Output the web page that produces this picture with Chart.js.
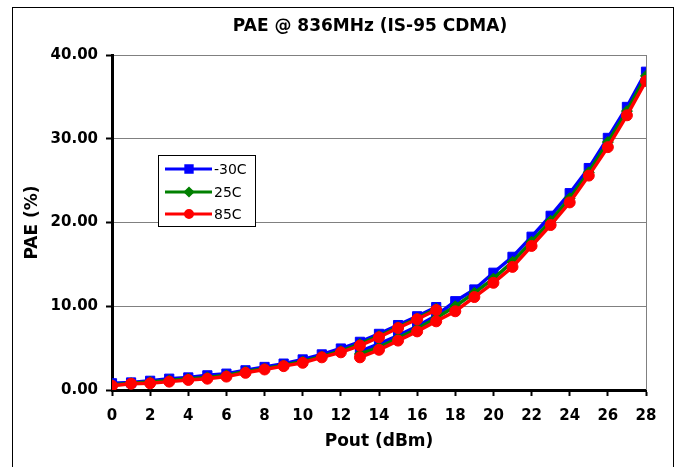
<!DOCTYPE html>
<html>
<head>
<meta charset="utf-8">
<script src="https://cdn.jsdelivr.net/npm/chart.js@4/dist/chart.umd.min.js"></script>
<style>
  html, body { margin: 0; padding: 0; background: #fff; }
  #wrap { width: 684px; height: 467px; position: relative; }
</style>
</head>
<body>
<div id="wrap"><canvas id="c" width="684" height="467"></canvas></div>
<script>
// ---- data ----
const chartTitle = "PAE @ 836MHz (IS-95 CDMA)";
const xTitle = "Pout (dBm)";
const yTitle = "PAE (%)";
const seriesNames = ["-30C", "25C", "85C"];

// low-power mode branch
const poutLow = [0,1,2,3,4,5,6,7,8,9,10,11,12,13,14,15,16,17];
const paeM30Low = [0.8,0.9,1.1,1.35,1.5,1.75,1.95,2.35,2.75,3.15,3.65,4.25,4.95,5.75,6.7,7.75,8.8,9.9];
const pae25Low  = [0.6,0.8,0.95,1.15,1.35,1.5,1.75,2.2,2.55,2.95,3.4,4.0,4.65,5.5,6.45,7.5,8.55,9.7];
const pae85Low  = [0.5,0.75,0.8,1.0,1.2,1.35,1.6,2.05,2.45,2.85,3.25,3.9,4.5,5.3,6.3,7.4,8.45,9.55];

// high-power mode branch
const poutHigh = [13,14,15,16,17,18,19,20,21,22,23,24,25,26,27,28];
const paeM30High = [4.6,5.5,6.5,7.6,8.9,10.6,12.0,14.0,15.9,18.3,20.8,23.5,26.5,30.1,33.8,38.0];
const pae25High  = [4.3,5.1,6.2,7.3,8.6,10.0,11.6,13.3,15.3,17.7,20.2,22.9,26.0,29.6,33.3,37.5];
const pae85High  = [3.9,4.8,5.9,7.0,8.2,9.4,11.1,12.8,14.7,17.2,19.7,22.4,25.6,29.0,32.8,36.9];

const yTicks = [0, 10, 20, 30, 40];

// ---- build ----
function branchPoints(xs1, ys1, xs2, ys2) {
  const pts = xs1.map((x, i) => ({x: x, y: ys1[i]}));
  pts.push({x: (xs1[xs1.length - 1] + xs2[0]) / 2, y: null}); // break between modes
  xs2.forEach((x, i) => pts.push({x: x, y: ys2[i]}));
  return pts;
}

const styles = [
  {color: '#0000ff', point: 'rect', r: 6.5, order: 3},
  {color: '#008000', point: 'rectRot', r: 5.5, order: 2},
  {color: '#ff0000', point: 'circle', r: 5.5, order: 1}
];
const series = [
  branchPoints(poutLow, paeM30Low, poutHigh, paeM30High),
  branchPoints(poutLow, pae25Low, poutHigh, pae25High),
  branchPoints(poutLow, pae85Low, poutHigh, pae85High)
];

const datasets = series.map((pts, i) => ({
  label: seriesNames[i],
  data: pts,
  borderColor: styles[i].color,
  backgroundColor: styles[i].color,
  borderWidth: 3.5,
  pointStyle: styles[i].point,
  pointRadius: styles[i].r,
  pointBorderWidth: 1,
  pointBorderColor: styles[i].color,
  pointBackgroundColor: styles[i].color,
  spanGaps: false,
  tension: 0,
  order: styles[i].order
}));

const FONT = "'DejaVu Sans', sans-serif";

const decor = {
  id: 'decor',
  beforeDraw(chart) {
    const ctx = chart.ctx;
    ctx.save();
    ctx.fillStyle = '#fff';
    ctx.fillRect(0, 0, chart.width, chart.height);
    ctx.strokeStyle = '#000';
    ctx.lineWidth = 1;
    ctx.strokeRect(12.5, 7.5, 661, 480);
    ctx.restore();
  },
  beforeDatasetsDraw(chart) {
    const ctx = chart.ctx, a = chart.chartArea;
    ctx.save();
    ctx.strokeStyle = '#808080';
    ctx.lineWidth = 1;
    ctx.beginPath();
    ctx.moveTo(Math.round(a.right) + 0.5, a.top);
    ctx.lineTo(Math.round(a.right) + 0.5, a.bottom);
    ctx.stroke();
    ctx.restore();
  },
  afterDraw(chart) {
    const ctx = chart.ctx;
    ctx.save();
    // title
    ctx.fillStyle = '#000';
    ctx.font = "bold 17px " + FONT;
    ctx.textAlign = 'center';
    ctx.textBaseline = 'middle';
    ctx.fillText(chartTitle, 370, 27);
    // legend box
    const bx = 158.5, by = 155.5, bw = 97, bh = 71;
    ctx.fillStyle = '#fff';
    ctx.fillRect(bx, by, bw, bh);
    ctx.strokeStyle = '#000';
    ctx.lineWidth = 1;
    ctx.strokeRect(bx, by, bw, bh);
    const rows = [169, 192, 214];
    chart.data.datasets.forEach((ds, i) => {
      const y = rows[i];
      ctx.strokeStyle = ds.borderColor;
      ctx.lineWidth = 3;
      ctx.beginPath();
      ctx.moveTo(165, y);
      ctx.lineTo(212, y);
      ctx.stroke();
      ctx.fillStyle = ds.borderColor;
      Chart.helpers.drawPoint(ctx, {pointStyle: ds.pointStyle, rotation: 0, radius: i === 0 ? 4.5 : 3.5, borderWidth: 1}, 189, y);
      ctx.fillStyle = '#000';
      ctx.font = "14px " + FONT;
      ctx.textAlign = 'left';
      ctx.textBaseline = 'middle';
      ctx.fillText(ds.label, 214, y + 1);
    });
    ctx.restore();
  }
};

new Chart(document.getElementById('c'), {
  type: 'line',
  data: { datasets: datasets },
  options: {
    responsive: false,
    animation: false,
    devicePixelRatio: 1,
    layout: { padding: { top: 55, right: 38, bottom: 0, left: 0 } },
    plugins: {
      legend: { display: false },
      title: { display: false },
      tooltip: { enabled: false }
    },
    scales: {
      x: {
        type: 'linear',
        min: 0, max: 28,
        afterFit(s) { s.height = 77; },
        ticks: {
          stepSize: 2,
          color: '#000',
          font: { family: FONT, size: 15, weight: 'bold' },
          padding: 11,
          maxRotation: 0
        },
        grid: {
          drawOnChartArea: false,
          drawTicks: true,
          tickLength: 6,
          tickColor: '#000',
          tickWidth: 2
        },
        border: { color: '#000', width: 3 },
        title: {
          display: true,
          text: xTitle,
          color: '#000',
          font: { family: FONT, size: 17, weight: 'bold' },
          padding: { top: 0, bottom: 15 }
        }
      },
      y: {
        min: 0, max: 40,
        afterFit(s) { s.width = 112; },
        afterBuildTicks(s) { s.ticks = yTicks.map(v => ({value: v})); },
        ticks: {
          color: '#000',
          font: { family: FONT, size: 15, weight: 'bold' },
          padding: 8,
          callback: v => Number(v).toFixed(2)
        },
        grid: {
          color: '#808080',
          lineWidth: 1,
          drawTicks: true,
          tickLength: 6,
          tickColor: '#000',
          tickWidth: 2
        },
        border: { color: '#000', width: 3 },
        title: {
          display: true,
          text: yTitle,
          color: '#000',
          font: { family: FONT, size: 17, weight: 'bold' },
          padding: { top: 22, bottom: 0 }
        }
      }
    }
  },
  plugins: [decor]
});
</script>
</body>
</html>
